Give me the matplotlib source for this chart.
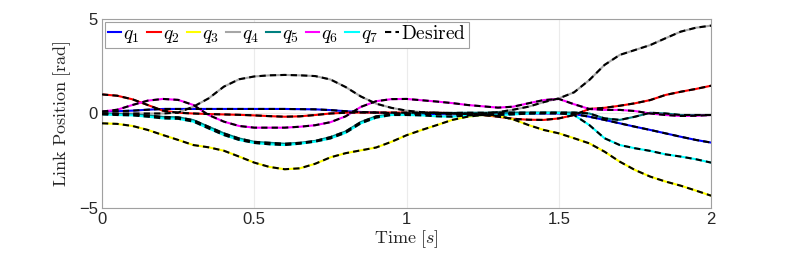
import numpy as np
import matplotlib
matplotlib.use('Agg')
import matplotlib.pyplot as plt

plt.rcParams['mathtext.fontset'] = 'cm'
plt.rcParams['font.family'] = ['Liberation Sans', 'DejaVu Sans']

# time samples [s], every 0.05 s
t = [0.0, 0.05, 0.1, 0.15, 0.2, 0.25, 0.3, 0.35, 0.4, 0.45,
     0.5, 0.55, 0.6, 0.65, 0.7, 0.75, 0.8, 0.85, 0.9, 0.95,
     1.0, 1.05, 1.1, 1.15, 1.2, 1.25, 1.3, 1.35, 1.4, 1.45,
     1.5, 1.55, 1.6, 1.65, 1.7, 1.75, 1.8, 1.85, 1.9, 1.95, 2.0]

# link positions [rad]
q1 = [0.1, 0.12, 0.15, 0.2, 0.24, 0.24, 0.24, 0.24, 0.24, 0.24,
      0.24, 0.24, 0.24, 0.23, 0.22, 0.18, 0.12, 0.08, 0.05, 0.02,
      0.0, -0.02, -0.03, -0.05, -0.05, -0.05, -0.03, 0.0, 0.0, 0.0,
      0.0, -0.03, -0.17, -0.34, -0.52, -0.7, -0.87, -1.05, -1.23, -1.4, -1.54]
q2 = [1.01, 0.94, 0.75, 0.45, 0.15, 0.04, 0.0, -0.03, -0.05, -0.07,
      -0.1, -0.14, -0.17, -0.15, -0.08, 0.0, 0.04, 0.05, 0.05, 0.05,
      0.05, 0.05, 0.04, 0.02, 0.0, -0.08, -0.17, -0.28, -0.33, -0.34,
      -0.26, -0.08, 0.24, 0.3, 0.41, 0.54, 0.71, 0.98, 1.15, 1.3, 1.47]
q3 = [-0.52, -0.55, -0.66, -0.87, -1.14, -1.4, -1.67, -1.79, -1.97, -2.28,
      -2.6, -2.83, -2.95, -2.9, -2.66, -2.32, -2.1, -1.95, -1.8, -1.5,
      -1.15, -0.87, -0.61, -0.34, -0.17, -0.08, -0.12, -0.31, -0.61, -0.87,
      -1.05, -1.31, -1.58, -2.02, -2.55, -2.99, -3.34, -3.6, -3.82, -4.08, -4.35]
q4 = [0.0, 0.0, 0.0, 0.0, 0.0, 0.05, 0.36, 0.8, 1.42, 1.81,
      1.96, 2.02, 2.04, 2.02, 1.98, 1.8, 1.4, 0.9, 0.52, 0.3,
      0.15, 0.07, 0.03, 0.0, -0.03, 0.0, 0.07, 0.2, 0.36, 0.6,
      0.8, 1.12, 1.77, 2.57, 3.1, 3.36, 3.62, 3.98, 4.33, 4.54, 4.65]
q5 = [0.0, -0.03, -0.05, -0.1, -0.18, -0.2, -0.35, -0.7, -1.05, -1.32,
      -1.5, -1.55, -1.6, -1.55, -1.45, -1.25, -0.95, -0.45, -0.15, -0.05,
      0.0, 0.02, 0.03, 0.03, 0.04, 0.04, 0.05, 0.05, 0.05, 0.05,
      0.05, 0.05, 0.0, -0.26, -0.34, -0.17, 0.04, 0.0, -0.08, -0.08, -0.08]
q6 = [0.1, 0.2, 0.45, 0.68, 0.77, 0.72, 0.45, -0.08, -0.43, -0.66,
      -0.75, -0.75, -0.75, -0.7, -0.62, -0.46, -0.15, 0.35, 0.65, 0.76,
      0.77, 0.7, 0.63, 0.55, 0.45, 0.38, 0.31, 0.36, 0.54, 0.71,
      0.77, 0.49, 0.24, 0.19, 0.19, 0.13, 0.0, -0.08, -0.13, -0.12, -0.08]
q7 = [-0.05, -0.08, -0.1, -0.17, -0.26, -0.28, -0.43, -0.79, -1.14, -1.4,
      -1.56, -1.63, -1.67, -1.6, -1.49, -1.32, -1.02, -0.52, -0.22, -0.08,
      -0.08, -0.1, -0.15, -0.17, -0.1, -0.08, -0.08, -0.05, 0.0, 0.03,
      0.03, -0.08, -0.61, -1.31, -1.67, -1.84, -1.98, -2.16, -2.28, -2.42, -2.6]

joints = [q1, q2, q3, q4, q5, q6, q7]
colors = ['#0000FF', '#FF0000', '#FFFF00', '#A6A6A6', '#008080', '#FF00FF', '#00FFFF']
labels = [r'$q_%d$' % (i + 1) for i in range(7)]

fig = plt.figure(figsize=(7.89, 2.59), dpi=100)
ax = fig.add_axes([0.1293, 0.197, 0.772, 0.7296])

for q, c, lab in zip(joints, colors, labels):
    ax.plot(t, q, color=c, lw=1.5, label=lab, zorder=2)
for i, q in enumerate(joints):
    ax.plot(t, q, color='black', lw=1.5, ls=(0, (3, 2)),
            label=r'$\mathrm{Desired}$' if i == 0 else None, zorder=3)

ax.set_xlim(0, 2)
ax.set_ylim(-5, 5)
ax.set_xticks([0, 0.5, 1, 1.5, 2])
ax.set_xticklabels(['0', '0.5', '1', '1.5', '2'])
ax.set_yticks([-5, 0, 5])
ax.tick_params(labelsize=12, length=0, pad=3, colors='#262626')
ax.grid(True, color='#EBEBEB', lw=0.8)
for s in ax.spines.values():
    s.set_color('#A0A0A0')
    s.set_linewidth(0.8)

ax.set_xlabel(r'$\mathrm{Time\ [}s\mathrm{]}$', fontsize=13, color='#262626', labelpad=1)
ax.set_ylabel(r'$\mathrm{Link\ Position\ [rad]}$', fontsize=13, color='#262626', labelpad=4)

leg = ax.legend(loc='upper left', ncol=8, fontsize=14, handlelength=0.7,
                handletextpad=0.1, columnspacing=0.37, borderpad=0.15,
                borderaxespad=0.15, fancybox=False, framealpha=1)
leg.get_frame().set_edgecolor('#A0A0A0')
leg.get_frame().set_linewidth(0.8)

fig.savefig('out.png', dpi=100)
